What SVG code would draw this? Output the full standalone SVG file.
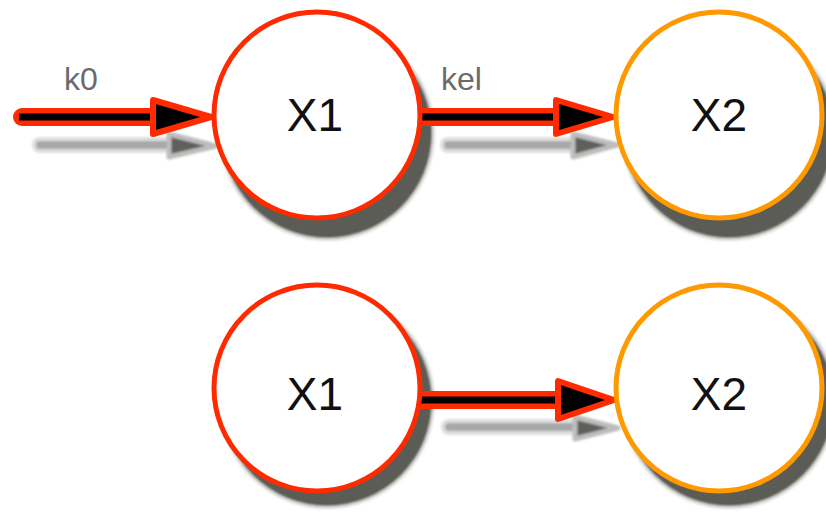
<svg xmlns="http://www.w3.org/2000/svg" width="826" height="520" viewBox="0 0 826 520">
  <defs>
    <style>
      .halo { fill: #dcdcd8; }
      .shade { fill: #5b5b57; }
      .sh-line-o { fill: none; stroke: #dedede; stroke-width: 16; stroke-linecap: round; }
      .sh-line-i { fill: none; stroke: #a8a8a8; stroke-width: 8; stroke-linecap: round; }
      .sh-head { fill: #5f5f5c; stroke: #bdbdbd; stroke-width: 5; stroke-linejoin: round; }
      .shaft-o { fill: none; stroke: #ff2a00; stroke-width: 18; stroke-linecap: round; }
      .shaft-i { fill: none; stroke: #000; stroke-width: 7; }
      .head { fill: #000; stroke: #ff2a00; stroke-width: 6; stroke-linejoin: round; }
      .node { fill: #fff; stroke-width: 5; }
      .red { stroke: #ff2a00; }
      .orange { stroke: #ff9900; }
      .label { font-family: "Liberation Sans", Arial, sans-serif; font-size: 46px; fill: #111; text-anchor: middle; }
      .rate { font-family: "Liberation Sans", Arial, sans-serif; font-size: 32px; fill: #6b6b6b; }
    </style>
    <filter id="soft" x="-10%" y="-10%" width="120%" height="120%">
      <feGaussianBlur stdDeviation="1.2"/>
    </filter>
  </defs>

  <!-- drop shadows under the circles -->
  <g id="node-shadows" filter="url(#soft)">
    <circle class="halo" cx="327" cy="133" r="108"/>
    <circle class="shade" cx="327" cy="133" r="105"/>
    <circle class="halo" cx="729" cy="133" r="108"/>
    <circle class="shade" cx="729" cy="133" r="105"/>
    <circle class="halo" cx="327" cy="401" r="108"/>
    <circle class="shade" cx="327" cy="401" r="105"/>
    <circle class="halo" cx="729" cy="401" r="108"/>
    <circle class="shade" cx="729" cy="401" r="105"/>
  </g>

  <g id="connectors">
    <!-- shadows of the arrows -->
    <g filter="url(#soft)">
      <path class="sh-line-o" d="M40 145 H176"/>
      <path class="sh-line-i" d="M40 145 H176"/>
      <polygon class="sh-head" points="169,134 169,157 216,146"/>
      <path class="sh-line-o" d="M448 145 H580"/>
      <path class="sh-line-i" d="M448 145 H580"/>
      <polygon class="sh-head" points="573,134 573,157 617,145"/>
      <path class="sh-line-o" d="M449 427 H582"/>
      <path class="sh-line-i" d="M449 427 H582"/>
      <polygon class="sh-head" points="575,417 575,439 618,428"/>
    </g>

    <!-- k0: inflow into X1 -->
    <g id="edge-k0">
      <path class="shaft-o" d="M22 117 H160"/>
      <path class="shaft-i" d="M19 117 H162"/>
      <polygon class="head" points="153,100 153,134 211,117"/>
    </g>
    <!-- kel: X1 to X2 -->
    <g id="edge-kel">
      <path class="shaft-o" d="M400 117 H562" stroke-linecap="butt"/>
      <path class="shaft-i" d="M400 117 H564"/>
      <polygon class="head" points="556,100 556,134 613,117"/>
    </g>
    <!-- lower X1 to X2 -->
    <g id="edge-lower">
      <path class="shaft-o" d="M400 400 H564" stroke-linecap="butt"/>
      <path class="shaft-i" d="M400 400 H566"/>
      <polygon class="head" points="558,381 558,419 614,400"/>
    </g>

    <text class="rate" x="64" y="90">k0</text>
    <text class="rate" x="441" y="90">kel</text>
  </g>

  <g id="x1-top">
    <circle class="node red" cx="317" cy="115" r="103"/>
    <text class="label" x="315" y="131">X1</text>
  </g>
  <g id="x2-top">
    <circle class="node orange" cx="719" cy="115" r="103"/>
    <text class="label" x="719" y="131">X2</text>
  </g>
  <g id="x1-bottom">
    <circle class="node red" cx="317" cy="388" r="103"/>
    <text class="label" x="315" y="410">X1</text>
  </g>
  <g id="x2-bottom">
    <circle class="node orange" cx="719" cy="388" r="103"/>
    <text class="label" x="719" y="410">X2</text>
  </g>
</svg>
